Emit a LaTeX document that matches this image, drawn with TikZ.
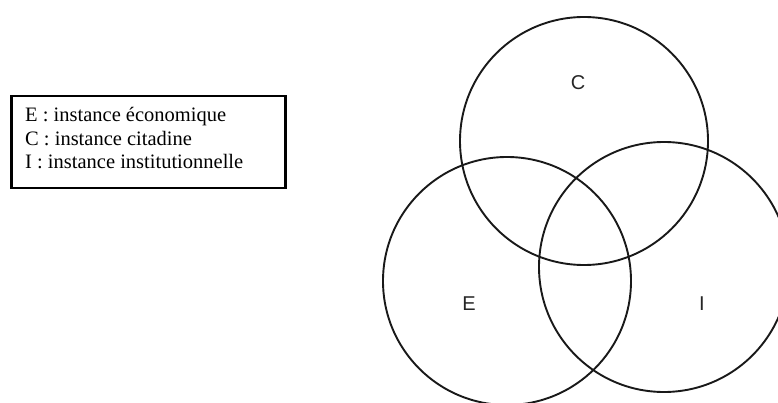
\documentclass[tikz,border=0pt]{standalone}
\usepackage{fontspec}
\setmainfont{Liberation Serif}
\newfontfamily\labelfont{Liberation Sans}
\begin{document}
\begin{tikzpicture}[x=1pt,y=-1pt,
  ring/.style={draw=black!90, line width=1.9pt, circle, inner sep=0pt},
  ringlabel/.style={font=\labelfont\fontsize{20}{24}\selectfont, text=black!85, inner sep=0pt, anchor=base},
  legendline/.style={font=\fontsize{20.5}{24}\selectfont, inner sep=0pt, anchor=base west}]
  \useasboundingbox (0,0) rectangle (778,403);

  % legend
  \node[draw=black, line width=2.5pt, rectangle, minimum width=274pt, minimum height=92pt,
        inner sep=0pt, anchor=north west] (legend) at (10,95) {};
  \node[legendline] (le) at (25,122) {E : instance économique};
  \node[legendline] (lc) at (25,145.5) {C : instance citadine};
  \node[legendline] (li) at (25,169) {I : instance institutionnelle};

  % the three instances
  \node[ring, minimum size=248pt] (C) at (584,141) {};
  \node[ring, minimum size=248pt] (E) at (507,281) {};
  \node[ring, minimum size=250pt] (I) at (664,267) {};

  \node[ringlabel] (tc) at (578,89.5) {C};
  \node[ringlabel] (te) at (469,310.5) {E};
  \node[ringlabel] (ti) at (702,310.5) {I};
\end{tikzpicture}
\end{document}
